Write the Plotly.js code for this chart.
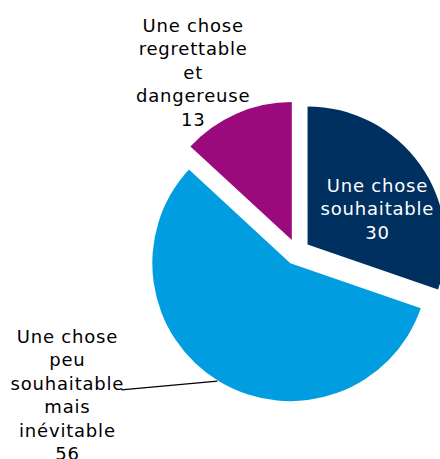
<!DOCTYPE html>
<html>
<head>
<meta charset="utf-8">
<script src="https://cdn.plot.ly/plotly-3.0.1.min.js"></script>
<style>
html, body { margin: 0; padding: 0; overflow: hidden; background: #fff; }
#chart { width: 460px; height: 459px; }
#chart text { letter-spacing: 0.8px; }
</style>
</head>
<body>
<div id="chart"></div>
<script>
const labels = [
  "Une chose<br>souhaitable",
  "Une chose<br>peu<br>souhaitable<br>mais<br>inévitable",
  "Une chose<br>regrettable<br>et<br>dangereuse"
];
const values = [30, 56, 13];
const colors = ["#00305f", "#009ee0", "#9b0a7d"];

const W = 460, H = 459;
const M = { l: 145.6, r: 12.4, t: 100.8, b: 56.2 };
const PW = W - M.l - M.r, PH = H - M.t - M.b;
const px = (x) => (x - M.l) / PW;
const py = (y) => 1 - (y - M.t) / PH;

const FONT = "DejaVu Sans, Verdana, sans-serif";

const trace = {
  type: "pie",
  labels: labels,
  values: values,
  sort: false,
  direction: "clockwise",
  rotation: 0,
  pull: [0.094, 0.094, 0.094],
  marker: { colors: colors, line: { width: 0 } },
  textinfo: "none",
  hoverinfo: "none",
  showlegend: false
};

const txt = (i) => labels[i] + "<br>" + values[i];

const annotations = [
  // inside label of the first slice
  { xref: "paper", yref: "paper", x: px(377), y: py(209), xanchor: "center", yanchor: "middle",
    text: txt(0), showarrow: false, font: { family: FONT, size: 18, color: "#ffffff" } },
  // outside label of the second slice with leader line
  { xref: "paper", yref: "paper", x: px(217), y: py(381),
    ax: 67 - 217, ay: 394.5 - 381, text: txt(1), showarrow: true,
    arrowhead: 0, arrowwidth: 1.2, arrowcolor: "#000000", standoff: 0,
    font: { family: FONT, size: 18, color: "#000000" } },
  // outside label of the third slice
  { xref: "paper", yref: "paper", x: px(192.5), y: py(72), xanchor: "center", yanchor: "middle",
    text: txt(2), showarrow: false, font: { family: FONT, size: 18, color: "#000000" } }
];

const layout = {
  width: W,
  height: H,
  margin: M,
  paper_bgcolor: "#ffffff",
  showlegend: false,
  font: { family: FONT, size: 18, color: "#000000" },
  annotations: annotations
};

Plotly.newPlot("chart", [trace], layout, { displayModeBar: false, staticPlot: true });
</script>
</body>
</html>
